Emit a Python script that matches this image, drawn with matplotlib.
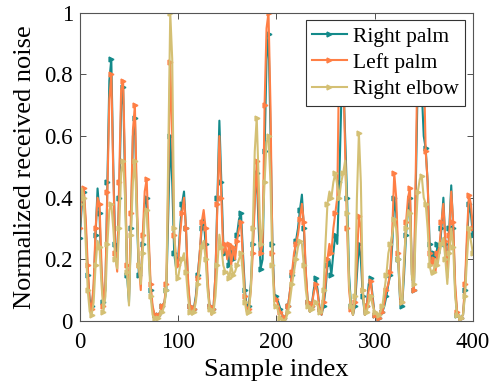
import numpy as np
import matplotlib
matplotlib.use("Agg")
import matplotlib.pyplot as plt

plt.rcParams['font.family'] = ['Liberation Serif', 'DejaVu Serif']

# sample index, every 2nd sample 0..400
sample_idx = list(range(0, 401, 2))

right_palm = [
    # 0-48
    0.27, 0.38, 0.42, 0.30, 0.15, 0.07, 0.05, 0.10, 0.28, 0.43, 0.35, 0.15, 0.06,
    0.10, 0.45, 0.78, 0.85, 0.50, 0.25, 0.20, 0.40, 0.70, 0.76, 0.45, 0.15,
    # 50-98
    0.06, 0.30, 0.60, 0.66, 0.35, 0.15, 0.13, 0.25, 0.38, 0.40, 0.25, 0.10, 0.04,
    0.02, 0.02, 0.02, 0.03, 0.05, 0.06, 0.10, 0.35, 0.60, 0.45, 0.22, 0.17,
    # 100-148
    0.20, 0.30, 0.38, 0.42, 0.30, 0.12, 0.05, 0.03, 0.04, 0.08, 0.15, 0.22, 0.30,
    0.33, 0.25, 0.12, 0.05, 0.03, 0.04, 0.15, 0.40, 0.65, 0.45, 0.25, 0.22,
    # 150-198
    0.22, 0.18, 0.24, 0.20, 0.22, 0.28, 0.33, 0.35, 0.22, 0.10, 0.04, 0.05, 0.12,
    0.25, 0.40, 0.48, 0.30, 0.17, 0.20, 0.55, 0.85, 0.93, 0.62, 0.25, 0.08,
    # 200-248
    0.08, 0.06, 0.04, 0.02, 0.01, 0.02, 0.05, 0.10, 0.15, 0.20, 0.26, 0.30, 0.36,
    0.41, 0.30, 0.15, 0.06, 0.03, 0.05, 0.10, 0.14, 0.10, 0.04, 0.02, 0.05,
    # 250-298
    0.10, 0.18, 0.20, 0.15, 0.22, 0.28, 0.25, 0.45, 0.70, 0.80, 0.60, 0.40, 0.15,
    0.05, 0.02, 0.05, 0.15, 0.25, 0.20, 0.08, 0.02, 0.05, 0.12, 0.14, 0.08,
    # 300-348
    0.02, 0.01, 0.01, 0.02, 0.03, 0.05, 0.08, 0.12, 0.15, 0.25, 0.40, 0.35, 0.20,
    0.06, 0.05, 0.15, 0.28, 0.36, 0.40, 0.15, 0.10, 0.45, 0.80, 0.97, 0.75,
    # 350-400
    0.60, 0.56, 0.45, 0.25, 0.20, 0.22, 0.18, 0.25, 0.22, 0.30, 0.40, 0.25, 0.15,
    0.30, 0.44, 0.30, 0.10, 0.02, 0.01, 0.01, 0.02, 0.10, 0.25, 0.38, 0.35, 0.28,
]

left_palm = [
    0.30, 0.40, 0.43, 0.33, 0.18, 0.06, 0.04, 0.12, 0.30, 0.40, 0.38, 0.18, 0.05,
    0.12, 0.42, 0.72, 0.80, 0.48, 0.22, 0.16, 0.45, 0.75, 0.78, 0.50, 0.18,
    0.08, 0.35, 0.62, 0.70, 0.40, 0.18, 0.10, 0.28, 0.42, 0.46, 0.28, 0.12, 0.05,
    0.02, 0.02, 0.02, 0.03, 0.05, 0.06, 0.12, 0.45, 0.84, 0.60, 0.28, 0.20,
    0.18, 0.28, 0.35, 0.40, 0.30, 0.14, 0.05, 0.03, 0.04, 0.07, 0.14, 0.22, 0.32,
    0.36, 0.30, 0.14, 0.05, 0.02, 0.04, 0.15, 0.38, 0.60, 0.40, 0.22, 0.25,
    0.20, 0.25, 0.18, 0.24, 0.20, 0.26, 0.30, 0.32, 0.20, 0.08, 0.03, 0.04, 0.10,
    0.22, 0.38, 0.52, 0.35, 0.22, 0.25, 0.70, 0.95, 1.00, 0.70, 0.22, 0.08,
    0.07, 0.05, 0.03, 0.02, 0.01, 0.02, 0.05, 0.10, 0.16, 0.22, 0.25, 0.28, 0.33,
    0.38, 0.32, 0.16, 0.06, 0.03, 0.05, 0.09, 0.12, 0.09, 0.04, 0.02, 0.06,
    0.12, 0.20, 0.25, 0.22, 0.30, 0.35, 0.40, 0.88, 0.70, 0.85, 0.55, 0.30, 0.10,
    0.04, 0.02, 0.06, 0.20, 0.34, 0.30, 0.10, 0.02, 0.05, 0.10, 0.13, 0.07,
    0.02, 0.01, 0.01, 0.02, 0.03, 0.06, 0.10, 0.12, 0.16, 0.30, 0.48, 0.40, 0.22,
    0.07, 0.06, 0.18, 0.32, 0.40, 0.43, 0.15, 0.10, 0.50, 0.92, 0.80, 0.90,
    0.85, 0.55, 0.45, 0.22, 0.18, 0.20, 0.16, 0.22, 0.24, 0.32, 0.38, 0.26, 0.14,
    0.28, 0.42, 0.32, 0.12, 0.03, 0.01, 0.01, 0.02, 0.12, 0.28, 0.41, 0.38, 0.30,
]

right_elbow = [
    0.38, 0.43, 0.40, 0.25, 0.10, 0.03, 0.02, 0.06, 0.18, 0.26, 0.24, 0.12, 0.03,
    0.08, 0.25, 0.36, 0.38, 0.30, 0.20, 0.17, 0.30, 0.48, 0.52, 0.40, 0.16,
    0.05, 0.28, 0.45, 0.52, 0.35, 0.18, 0.12, 0.22, 0.35, 0.36, 0.22, 0.08, 0.02,
    0.01, 0.01, 0.01, 0.02, 0.03, 0.05, 0.10, 0.55, 1.00, 0.85, 0.30, 0.15,
    0.14, 0.18, 0.20, 0.22, 0.16, 0.08, 0.03, 0.02, 0.03, 0.06, 0.12, 0.18, 0.24,
    0.26, 0.20, 0.10, 0.04, 0.02, 0.03, 0.08, 0.18, 0.28, 0.24, 0.18, 0.16,
    0.16, 0.14, 0.18, 0.15, 0.16, 0.18, 0.20, 0.22, 0.15, 0.06, 0.02, 0.03, 0.10,
    0.30, 0.55, 0.66, 0.45, 0.25, 0.30, 0.45, 0.58, 0.60, 0.45, 0.18, 0.05,
    0.05, 0.03, 0.01, 0.00, 0.00, 0.01, 0.03, 0.07, 0.12, 0.16, 0.20, 0.24, 0.26,
    0.25, 0.18, 0.10, 0.05, 0.03, 0.04, 0.05, 0.06, 0.05, 0.03, 0.03, 0.10,
    0.25, 0.38, 0.42, 0.40, 0.45, 0.48, 0.44, 0.40, 0.45, 0.48, 0.52, 0.35, 0.12,
    0.05, 0.02, 0.08, 0.40, 0.61, 0.45, 0.10, 0.02, 0.03, 0.06, 0.08, 0.05,
    0.03, 0.02, 0.02, 0.03, 0.05, 0.10, 0.15, 0.22, 0.25, 0.28, 0.33, 0.30, 0.20,
    0.08, 0.06, 0.20, 0.30, 0.36, 0.35, 0.14, 0.12, 0.30, 0.42, 0.46, 0.47,
    0.40, 0.38, 0.30, 0.18, 0.15, 0.16, 0.20, 0.18, 0.22, 0.25, 0.27, 0.20, 0.12,
    0.22, 0.30, 0.24, 0.08, 0.02, 0.01, 0.01, 0.02, 0.08, 0.20, 0.30, 0.26, 0.22,
]

series = [
    ('Right palm', right_palm, '#138a8a'),
    ('Left palm', left_palm, '#ff7f45'),
    ('Right elbow', right_elbow, '#d4c074'),
]

fig = plt.figure(figsize=(4.9, 3.89), dpi=100)
ax = fig.add_axes([0.163, 0.175, 0.802, 0.792])

for name, vals, col in series:
    ax.plot(sample_idx, vals, color=col, lw=1.5, marker='>', ms=3.5,
            markevery=2, label=name)

ax.set_xlim(0, 400)
ax.set_ylim(0, 1)
ax.set_xticks([0, 100, 200, 300, 400])
ax.set_yticks([0, 0.2, 0.4, 0.6, 0.8, 1])
ax.set_yticklabels(['0', '0.2', '0.4', '0.6', '0.8', '1'])
ax.tick_params(direction='in', top=True, right=True, labelsize=16.5,
               length=4, width=0.6, color='#333333')
ax.tick_params(axis='x', pad=8)
ax.tick_params(axis='y', pad=5)
for s in ax.spines.values():
    s.set_color('#555555')
    s.set_linewidth(0.8)

ax.set_xlabel('Sample index', fontsize=19, labelpad=4)
ax.set_ylabel('Normalized received noise', fontsize=19, labelpad=6)

leg = ax.legend(loc='upper right', fontsize=15.5, fancybox=False, framealpha=1,
                edgecolor='#333333', borderpad=0.3, handlelength=1.6,
                handletextpad=0.3, labelspacing=0.28, borderaxespad=0.35)
leg.get_frame().set_linewidth(0.8)

fig.savefig('out.png', dpi=100)
